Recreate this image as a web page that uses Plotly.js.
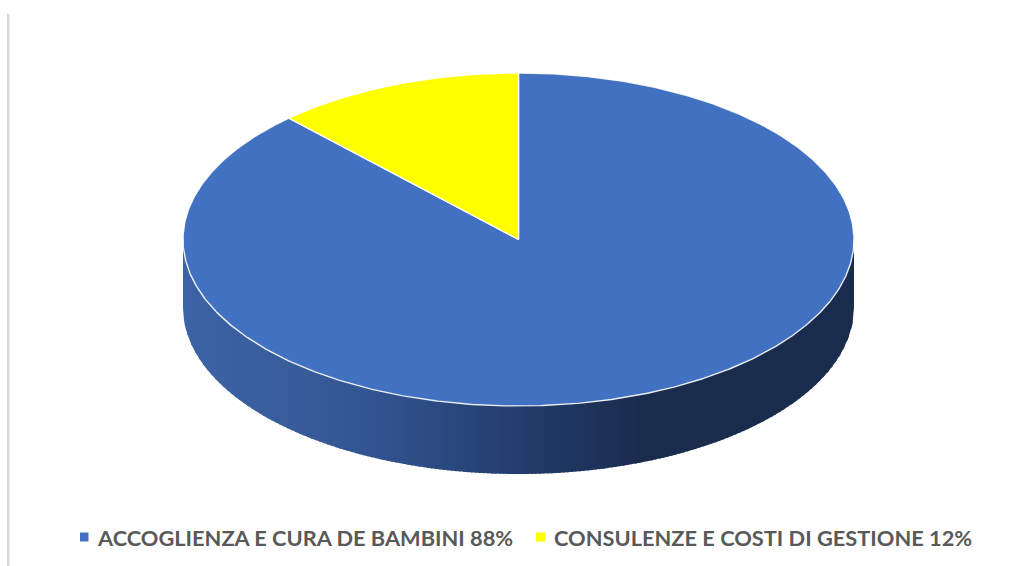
<!DOCTYPE html>
<html>
<head>
<meta charset="utf-8">
<script src="https://cdn.plot.ly/plotly-3.0.1.min.js"></script>
<style>html,body{margin:0;padding:0;background:#fff}#chart{width:1014px;height:566px}</style>
</head>
<body>
<div id="chart"></div>
<script>
const categories = ["ACCOGLIENZA E CURA DE BAMBINI 88%", "CONSULENZE E COSTI DI GESTIONE 12%"];
const shares = [88, 12];
const sliceColors = ["#4371c1", "#ffff00"];
const sideStopX = [183, 300, 370, 450, 550, 640, 854];
const sideStopColor = [[60,99,165],[56,91,153],[50,84,145],[42,72,125],[32,56,100],[26,44,78],[26,44,78]];

const cx = 518.5, cy = 239.5, rx = 335.5, ry = 166.5, depth = 68;

function sideColor(x) {
  let i = 0;
  while (i < sideStopX.length - 2 && x > sideStopX[i + 1]) i++;
  const f = Math.min(1, Math.max(0, (x - sideStopX[i]) / (sideStopX[i + 1] - sideStopX[i])));
  const c = sideStopColor[i].map((v, k) => Math.round(v + (sideStopColor[i + 1][k] - v) * f));
  return `rgb(${c[0]},${c[1]},${c[2]})`;
}
function rimY(x) {
  const u = Math.max(-1, Math.min(1, (x - cx) / rx));
  return cy + ry * Math.sqrt(1 - u * u);
}

const traces = [];
// side wall of the disc
const step = 4;
for (let x = cx - rx; x < cx + rx; x += step) {
  const xs = [], ys = [];
  const end = Math.min(cx + rx, x + step + 1.5);
  const n = 6;
  for (let i = 0; i <= n; i++) { const p = x + (end - x) * i / n; xs.push(p); ys.push(rimY(p) - 2); }
  for (let i = n; i >= 0; i--) { const p = x + (end - x) * i / n; xs.push(p); ys.push(rimY(p) + depth); }
  traces.push({type:"scatter", mode:"lines", x:xs.concat(xs[0]), y:ys.concat(ys[0]), fill:"toself",
    fillcolor:sideColor(x), line:{width:0}, hoverinfo:"skip", showlegend:false});
}
// top face slices, computed from the shares
const total = shares.reduce((a, b) => a + b, 0);
let acc = 0;
shares.forEach((s, idx) => {
  const a0 = acc / total * 2 * Math.PI, a1 = (acc + s) / total * 2 * Math.PI;
  acc += s;
  const xs = [cx], ys = [cy];
  const n = Math.ceil((a1 - a0) / (Math.PI / 360));
  for (let i = 0; i <= n; i++) {
    const t = a0 + (a1 - a0) * i / n;
    xs.push(cx + rx * Math.sin(t));
    ys.push(cy - ry * Math.cos(t));
  }
  xs.push(cx); ys.push(cy);
  traces.push({type:"scatter", mode:"lines", name:categories[idx], x:xs, y:ys, fill:"toself",
    fillcolor:sliceColors[idx], line:{color:"rgba(255,255,255,0.9)", width:1.4}, hoverinfo:"name", showlegend:false});
});

const legendItems = [
  {swatch:[80, 88.5], textX:97},
  {swatch:[536, 545.5], textX:554}
];
const font = {family:"Lato, 'Open Sans', sans-serif", size:21.8, color:"#595959", weight:700};
const layout = {
  width:1014, height:566, margin:{l:0,r:0,t:0,b:0},
  paper_bgcolor:"#ffffff", plot_bgcolor:"#ffffff", showlegend:false,
  xaxis:{range:[0,1014], visible:false, fixedrange:true},
  yaxis:{range:[566,0], visible:false, fixedrange:true},
  shapes:[
    {type:"rect", x0:7, x1:9.5, y0:14, y1:566, fillcolor:"#d9d9d9", line:{width:0}, layer:"below"},
    ...legendItems.map((it, i) => ({type:"rect", x0:it.swatch[0], x1:it.swatch[1], y0:532.5, y1:541.5,
      fillcolor:sliceColors[i], line:{width:0}}))
  ],
  annotations: legendItems.map((it, i) => ({x:it.textX, y:537, xref:"x", yref:"y", text:categories[i],
    showarrow:false, xanchor:"left", yanchor:"middle", xshift:-2, font}))
};
Plotly.newPlot("chart", traces, layout, {displayModeBar:false, staticPlot:true});
</script>
</body>
</html>
